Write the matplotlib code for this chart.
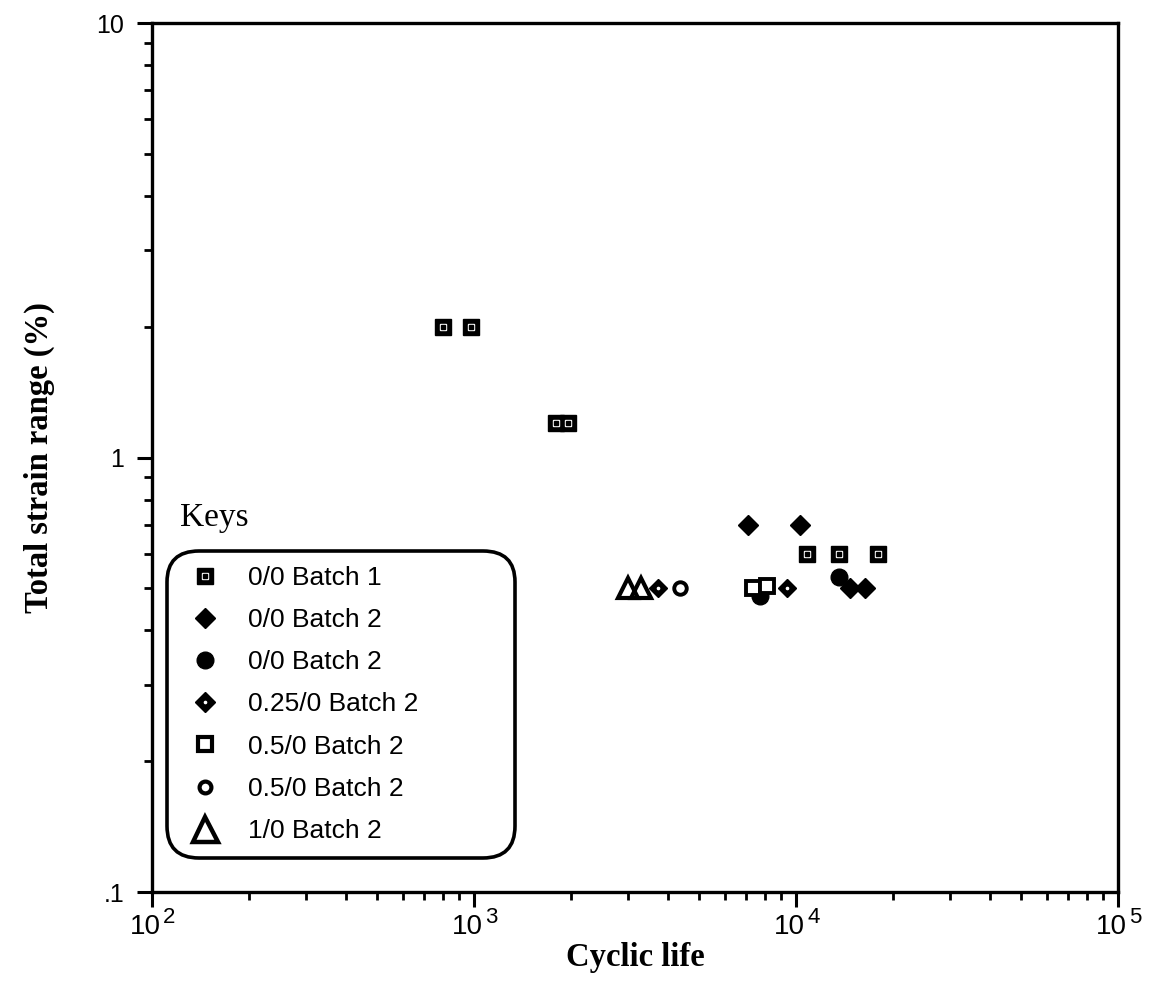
import numpy as np
import matplotlib
matplotlib.use("Agg")
import matplotlib.pyplot as plt
from matplotlib.lines import Line2D
from matplotlib.legend_handler import HandlerTuple
from matplotlib import ticker as tick
from matplotlib.transforms import blended_transform_factory

plt.rcParams['font.family'] = ['Liberation Sans', 'DejaVu Sans']

# cyclic life / total strain range (%)
b1_x = [800, 980, 1800, 1960, 10800, 13600, 17900]
b1_y = [2.0, 2.0, 1.2, 1.2, 0.6, 0.6, 0.6]
dia_x = [7100, 10300, 14700, 16400]
dia_y = [0.7, 0.7, 0.5, 0.5]
circ_x = [7750, 13600]
circ_y = [0.48, 0.53]
ddia_x = [3730, 9370]
ddia_y = [0.5, 0.5]
osq_x = [7340, 8110]
osq_y = [0.5, 0.505]
ocirc_x = [4370]
ocirc_y = [0.5]
tri_x = [3000, 3300]
tri_y = [0.5, 0.5]

labels = ["0/0 Batch 1", "0/0 Batch 2", "0/0 Batch 2", "0.25/0 Batch 2",
          "0.5/0 Batch 2", "0.5/0 Batch 2", "1/0 Batch 2"]
x_major = [1e2, 1e3, 1e4, 1e5]
x_exp = ['2', '3', '4', '5']
y_major = [0.1, 1, 10]
y_lbls = ['.1', '1', '10']

F = 19
fig = plt.figure(figsize=(11.53, 10.05), dpi=100)
ax = fig.add_axes([0.1318, 0.1124, 0.838, 0.8647])

k = 'black'
ax.plot(circ_x, circ_y, 'o', color=k, ms=12, ls='none')
ax.plot(dia_x, dia_y, 'D', color=k, ms=10.5, ls='none')
ax.plot(b1_x, b1_y, 's', color=k, ms=11, ls='none')
ax.plot(b1_x, b1_y, 's', color='white', ms=5, ls='none')
ax.plot(b1_x, b1_y, 's', color=k, ms=2.2, ls='none')
ax.plot(ddia_x, ddia_y, 'D', color=k, ms=9.5, ls='none')
ax.plot(ddia_x, ddia_y, 'o', color='white', ms=1.6, ls='none')
ax.plot(osq_x, osq_y, 's', mfc='white', mec=k, mew=2.8, ms=9.5, ls='none')
ax.plot(ocirc_x, ocirc_y, 'o', mfc='white', mec=k, mew=2.8, ms=9, ls='none')
ax.plot(tri_x, tri_y, '^', mfc='none', mec=k, mew=3, ms=15, ls='none')

ax.set_xscale('log')
ax.set_yscale('log')
ax.set_xlim(1e2, 1e5)
ax.set_ylim(0.1, 10)

ax.xaxis.set_major_locator(tick.FixedLocator(x_major))
ax.xaxis.set_major_formatter(tick.NullFormatter())
ax.yaxis.set_major_locator(tick.FixedLocator(y_major))
ax.yaxis.set_major_formatter(tick.FixedFormatter(y_lbls))
ax.xaxis.set_minor_locator(tick.LogLocator(base=10, subs=np.arange(2, 10)))
ax.yaxis.set_minor_locator(tick.LogLocator(base=10, subs=np.arange(2, 10)))
ax.xaxis.set_minor_formatter(tick.NullFormatter())
ax.yaxis.set_minor_formatter(tick.NullFormatter())

ax.tick_params(which='major', direction='out', length=11, width=2.2,
               top=False, right=False)
ax.tick_params(which='minor', direction='out', length=6, width=2,
               top=False, right=False)
ax.tick_params(axis='y', which='major', pad=9, labelsize=18)
for sp in ax.spines.values():
    sp.set_linewidth(2.4)

# x tick labels as 10 with a big superscript
tr = blended_transform_factory(ax.transData, ax.transAxes)
for xv, e in zip(x_major, x_exp):
    ax.annotate('10', xy=(xv, 0), xycoords=tr, xytext=(-5, -16),
                textcoords='offset points', ha='center', va='top',
                fontsize=20, annotation_clip=False)
    ax.annotate(e, xy=(xv, 0), xycoords=tr, xytext=(8, -10.5),
                textcoords='offset points', ha='left', va='top',
                fontsize=16, annotation_clip=False)

ax.set_xlabel('Cyclic life', fontsize=23.5, fontweight='bold',
              family='Liberation Serif')
ax.xaxis.set_label_coords(0.5, -0.058)
ax.set_ylabel('Total strain range (%)', fontsize=23.5, fontweight='bold',
              family='Liberation Serif', labelpad=30)

ax.text(0.029, 0.431, 'Keys', transform=ax.transAxes, fontsize=24,
        family='Liberation Serif', va='center')

# legend with composite markers
h_b1 = (Line2D([], [], marker='s', color=k, ms=11.5, ls='none'),
        Line2D([], [], marker='s', color='white', ms=5, ls='none'),
        Line2D([], [], marker='s', color=k, ms=2.2, ls='none'))
h_dia = Line2D([], [], marker='D', color=k, ms=10, ls='none')
h_circ = Line2D([], [], marker='o', color=k, ms=12, ls='none')
h_ddia = (Line2D([], [], marker='D', color=k, ms=10, ls='none'),
          Line2D([], [], marker='o', color='white', ms=1.6, ls='none'))
h_osq = Line2D([], [], marker='s', mfc='white', mec=k, mew=3, ms=9.5, ls='none')
h_ocirc = Line2D([], [], marker='o', mfc='white', mec=k, mew=3, ms=8.5, ls='none')
h_tri = Line2D([], [], marker='^', mfc='none', mec=k, mew=3.2, ms=18, ls='none')

leg = ax.legend([h_b1, h_dia, h_circ, h_ddia, h_osq, h_ocirc, h_tri], labels,
                handler_map={tuple: HandlerTuple(ndivide=1, pad=0)},
                loc='lower left', bbox_to_anchor=(0.0155, 0.039, 0.36, 0.357),
                mode='expand', fontsize=F, labelspacing=0.69,
                handletextpad=0.76, handlelength=1.74, borderpad=0.57,
                fancybox=True, framealpha=1, edgecolor=k, borderaxespad=0)
leg.get_frame().set_linewidth(2.6)
leg.get_frame().set_boxstyle('round', pad=0, rounding_size=1.2)

fig.savefig('out.png', dpi=100)
